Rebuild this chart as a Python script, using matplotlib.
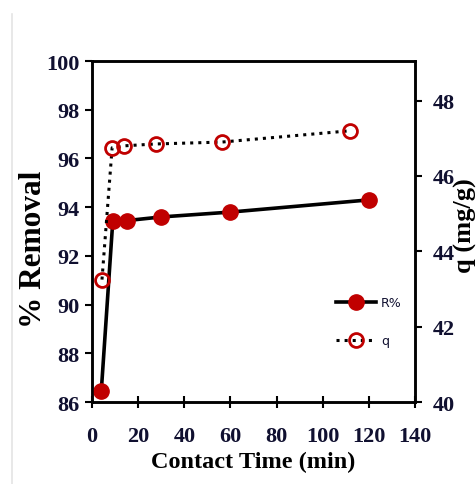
import matplotlib.pyplot as plt
from matplotlib.lines import Line2D

# contact time (min) and values
t_removal = [4, 9, 15, 30, 60, 120]
removal = [86.45, 93.45, 93.45, 93.6, 93.8, 94.3]

t_q = [4.3, 8.7, 13.8, 27.6, 56.2, 111.8]
q = [43.25, 46.75, 46.8, 46.85, 46.9, 47.2]

x_ticks = [0, 20, 40, 60, 80, 100, 120, 140]
left_ticks = [86, 88, 90, 92, 94, 96, 98, 100]
right_ticks = [40, 42, 44, 46, 48]

red = '#C00000'
navy = '#101030'
font = 'Liberation Serif'

fig = plt.figure(figsize=(4.77, 4.85), dpi=100)
ax = fig.add_axes([0.193, 0.169, 0.677, 0.703])
ax2 = ax.twinx()

ax.plot(t_removal, removal, '-', color='black', lw=2.6, marker='o',
        ms=11, mfc=red, mec=red, zorder=3)
ax2.plot(t_q, q, ':', color='black', lw=2.2, marker='o', ms=10,
         mfc='none', mec=red, mew=2, zorder=3)

ax.set_xlim(0, 140)
ax.set_ylim(86, 100)
ax2.set_ylim(40, 49.05)
ax.set_xticks(x_ticks)
ax.set_yticks(left_ticks)
ax2.set_yticks(right_ticks)

for a in (ax, ax2):
    for s in a.spines.values():
        s.set_linewidth(1.8)
    for lab in a.get_xticklabels() + a.get_yticklabels():
        lab.set_fontfamily(font)
        lab.set_fontweight('bold')
        lab.set_fontsize(16)
        lab.set_color(navy)

ax.tick_params(axis='x', direction='inout', length=8, width=1.5, pad=13)
ax.tick_params(axis='y', direction='out', length=5, width=1.5, pad=4)
ax2.tick_params(axis='y', direction='out', length=5, width=1.5, pad=8)

ax.set_xlabel('Contact Time (min)', fontfamily=font, fontweight='bold',
              fontsize=17.5, color='black', labelpad=4)
ax.set_ylabel('% Removal', fontfamily=font, fontweight='bold',
              fontsize=22.5, color='black')
ax.yaxis.set_label_coords(-0.137, 0.45)
fig.text(0.975, 0.535, 'q (mg/g)', rotation=90, ha='center', va='center',
         fontfamily=font, fontweight='bold', fontsize=19)

handles = [
    Line2D([], [], color='black', lw=2.6, marker='o', ms=11, mfc=red, mec=red),
    Line2D([], [], color='black', lw=2.2, ls=':', marker='o', ms=10,
           mfc='none', mec=red, mew=2),
]
ax.legend(handles, ['R%', 'q'], loc='center left',
          bbox_to_anchor=(0.72, 0.235), frameon=False, fontsize=9,
          handlelength=3.2, labelspacing=2.0, handletextpad=0.4,
          labelcolor=navy)

# faint page border seen on the left of the reference
fig.add_artist(Line2D([0.025, 0.025], [0.0, 0.97], color='#e4e4e4', lw=1.2))

fig.savefig('out.png', dpi=100)
